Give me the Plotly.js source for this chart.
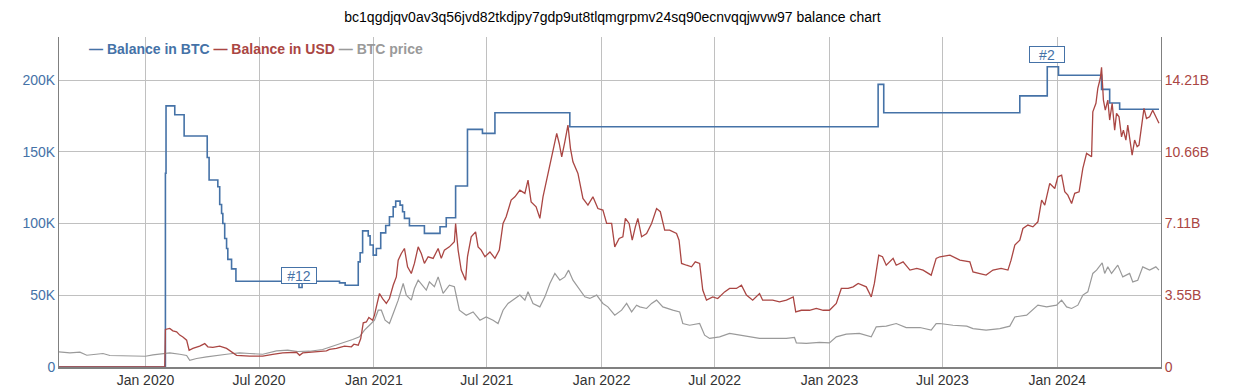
<!DOCTYPE html>
<html>
<head>
<meta charset="utf-8">
<script src="https://cdn.plot.ly/plotly-3.0.1.min.js"></script>
<style>
  html, body { margin: 0; padding: 0; background: #ffffff; }
  #chart { width: 1240px; height: 387px; }
</style>
</head>
<body>
<div id="chart"></div>
<script>
// ---------- data ----------
const chartTitle = 'bc1qgdjqv0av3q56jvd82tkdjpy7gdp9ut8tlqmgrpmv24sq90ecnvqqjwvw97 balance chart';
const seriesNames = ['Balance in BTC', 'Balance in USD', 'BTC price'];

// Balance in BTC (step series)
const btcDates = ['2019-08-15','2020-02-02','2020-02-03','2020-02-17','2020-03-03','2020-04-09','2020-04-12','2020-04-26','2020-04-29','2020-05-02','2020-05-04','2020-05-07','2020-05-10','2020-05-12','2020-05-18','2020-05-25','2020-09-03','2020-09-08','2020-11-07','2020-11-16','2020-12-07','2020-12-10','2020-12-14','2020-12-23','2020-12-26','2020-12-31','2021-01-05','2021-01-12','2021-01-20','2021-01-26','2021-02-01','2021-02-05','2021-02-12','2021-02-16','2021-02-19','2021-02-27','2021-03-23','2021-04-17','2021-04-27','2021-05-12','2021-05-31','2021-06-24','2021-07-14','2021-11-11','2023-03-20','2023-03-29','2023-11-02','2023-12-16','2024-01-03','2024-03-12','2024-03-25','2024-04-10','2024-06-12'];
const btcBalance = [0,135000,182000,175800,161000,146000,130300,125600,113300,107000,100000,89600,82600,75000,68400,59800,55400,59800,58600,57000,73300,79600,94900,91400,85000,78000,82600,93500,98600,104700,111600,115600,112800,108200,103600,98400,93100,97700,104000,126100,165600,162800,177200,167400,197000,177200,189000,209300,203300,193500,184000,179600,179600];

// Balance in USD (billions)
const usdDates = ['2019-08-15','2020-02-01','2020-02-02','2020-02-09','2020-02-14','2020-02-20','2020-02-25','2020-03-01','2020-03-07','2020-03-11','2020-03-17','2020-03-28','2020-04-05','2020-04-10','2020-04-18','2020-04-29','2020-05-10','2020-05-20','2020-05-26','2020-06-16','2020-07-07','2020-07-23','2020-08-08','2020-08-30','2020-09-04','2020-09-09','2020-10-01','2020-10-17','2020-10-22','2020-11-02','2020-11-15','2020-11-26','2020-11-30','2020-12-07','2020-12-11','2020-12-15','2020-12-20','2020-12-24','2020-12-30','2021-01-02','2021-01-05','2021-01-08','2021-01-10','2021-01-15','2021-01-21','2021-01-26','2021-02-01','2021-02-06','2021-02-09','2021-02-14','2021-02-19','2021-02-24','2021-03-02','2021-03-07','2021-03-13','2021-03-18','2021-03-23','2021-03-29','2021-04-06','2021-04-14','2021-04-19','2021-04-24','2021-05-02','2021-05-10','2021-05-12','2021-05-16','2021-05-21','2021-05-28','2021-05-31','2021-06-06','2021-06-13','2021-06-17','2021-06-22','2021-06-28','2021-07-06','2021-07-14','2021-07-21','2021-07-27','2021-08-01','2021-08-09','2021-08-15','2021-08-23','2021-08-31','2021-09-05','2021-09-10','2021-09-18','2021-09-24','2021-09-29','2021-10-07','2021-10-15','2021-10-21','2021-10-25','2021-10-29','2021-11-03','2021-11-08','2021-11-12','2021-11-16','2021-11-24','2021-12-02','2021-12-10','2021-12-18','2021-12-26','2022-01-03','2022-01-09','2022-01-17','2022-01-22','2022-01-29','2022-02-04','2022-02-08','2022-02-14','2022-02-19','2022-02-24','2022-02-28','2022-03-06','2022-03-14','2022-03-22','2022-03-30','2022-04-05','2022-04-12','2022-04-20','2022-05-01','2022-05-05','2022-05-09','2022-05-17','2022-05-25','2022-05-31','2022-06-07','2022-06-12','2022-06-18','2022-06-28','2022-07-06','2022-07-17','2022-07-25','2022-08-05','2022-08-13','2022-08-21','2022-08-31','2022-09-11','2022-09-16','2022-10-02','2022-10-13','2022-10-24','2022-11-04','2022-11-08','2022-11-17','2022-11-30','2022-12-11','2022-12-22','2023-01-01','2023-01-12','2023-01-20','2023-01-31','2023-02-08','2023-02-16','2023-03-01','2023-03-09','2023-03-14','2023-03-21','2023-03-27','2023-04-02','2023-04-13','2023-04-18','2023-04-29','2023-05-10','2023-05-21','2023-05-31','2023-06-13','2023-06-21','2023-06-27','2023-07-13','2023-07-29','2023-08-14','2023-08-19','2023-08-30','2023-09-09','2023-09-20','2023-10-03','2023-10-14','2023-10-19','2023-10-25','2023-11-02','2023-11-07','2023-11-15','2023-11-23','2023-12-01','2023-12-07','2023-12-12','2023-12-20','2023-12-28','2024-01-02','2024-01-08','2024-01-13','2024-01-18','2024-01-24','2024-01-29','2024-02-05','2024-02-11','2024-02-17','2024-02-25','2024-02-27','2024-03-03','2024-03-06','2024-03-10','2024-03-12','2024-03-15','2024-03-18','2024-03-22','2024-03-25','2024-03-29','2024-04-02','2024-04-05','2024-04-09','2024-04-13','2024-04-16','2024-04-20','2024-04-23','2024-04-26','2024-04-30','2024-05-04','2024-05-08','2024-05-11','2024-05-15','2024-05-19','2024-05-23','2024-05-28','2024-06-02','2024-06-07','2024-06-12'];
const usdBillions = [0,0,1.86,1.91,1.79,1.74,1.58,1.49,1.33,0.83,0.92,1.03,1.16,1.00,0.97,1.03,0.92,0.70,0.58,0.54,0.54,0.63,0.70,0.73,0.58,0.70,0.75,0.80,0.87,0.92,1.03,1.00,1.13,1.08,1.41,2.19,2.23,2.45,2.32,2.57,2.98,3.34,3.64,3.39,3.15,3.39,4.05,4.46,5.29,5.62,5.87,4.96,4.63,5.13,5.95,5.62,5.13,5.46,5.38,5.87,5.38,5.79,5.95,6.20,7.11,5.79,4.80,4.30,5.46,6.45,6.69,5.95,5.79,5.46,5.70,5.38,5.79,7.11,7.44,8.27,8.43,8.76,8.60,9.26,8.18,7.93,7.36,8.43,9.59,10.83,11.57,11.07,10.41,11.15,11.98,10.83,10.16,9.59,8.35,8.02,8.43,7.85,7.77,7.11,7.11,5.95,6.37,6.45,7.36,7.11,6.28,6.94,7.36,6.45,6.61,7.11,7.85,7.69,6.78,6.78,6.61,6.28,5.13,5.04,4.96,5.21,5.13,3.81,3.31,3.47,3.39,3.72,3.89,3.89,4.05,3.56,3.31,3.64,3.31,3.31,3.23,3.31,3.47,2.73,2.81,2.81,2.90,2.81,2.81,3.15,3.89,3.89,3.97,4.14,3.97,3.47,4.14,5.54,5.46,5.04,5.38,5.04,5.21,4.80,4.88,4.80,4.55,5.38,5.46,5.54,5.29,5.21,4.71,4.63,4.55,4.80,4.88,4.80,5.29,6.04,6.28,6.86,7.03,6.94,7.19,8.27,8.02,9.09,8.84,9.42,9.50,8.68,8.51,8.10,8.60,8.68,9.84,10.58,10.41,12.64,13.06,13.80,14.30,14.84,13.22,12.72,13.22,12.23,13.06,11.73,12.56,12.39,11.40,11.73,11.24,11.98,11.24,10.49,11.24,10.91,10.99,11.82,12.81,12.31,12.39,12.72,12.39,12.07];

// BTC price (USD)
const priceDates = ['2019-08-15','2019-09-02','2019-09-18','2019-09-29','2019-10-14','2019-10-25','2019-11-05','2019-11-21','2019-12-12','2020-01-01','2020-01-13','2020-01-29','2020-02-09','2020-02-25','2020-03-07','2020-03-12','2020-03-23','2020-04-08','2020-04-24','2020-05-10','2020-05-20','2020-05-31','2020-06-16','2020-07-07','2020-07-29','2020-08-16','2020-09-01','2020-09-20','2020-10-11','2020-11-02','2020-11-15','2020-11-28','2020-12-09','2020-12-17','2020-12-25','2021-01-02','2021-01-08','2021-01-13','2021-01-19','2021-01-26','2021-02-03','2021-02-09','2021-02-17','2021-02-22','2021-03-02','2021-03-07','2021-03-13','2021-03-21','2021-03-26','2021-03-31','2021-04-08','2021-04-14','2021-04-22','2021-05-02','2021-05-10','2021-05-18','2021-05-29','2021-06-09','2021-06-20','2021-06-30','2021-07-11','2021-07-19','2021-07-27','2021-08-04','2021-08-12','2021-08-23','2021-08-31','2021-09-05','2021-09-13','2021-09-24','2021-10-02','2021-10-10','2021-10-18','2021-10-26','2021-11-03','2021-11-09','2021-11-16','2021-11-24','2021-12-05','2021-12-13','2021-12-24','2022-01-03','2022-01-11','2022-01-22','2022-02-02','2022-02-10','2022-02-18','2022-02-26','2022-03-03','2022-03-14','2022-03-22','2022-03-30','2022-04-09','2022-04-25','2022-05-06','2022-05-11','2022-05-22','2022-06-07','2022-06-15','2022-06-23','2022-07-09','2022-07-25','2022-08-10','2022-08-21','2022-09-11','2022-10-02','2022-10-24','2022-11-06','2022-11-09','2022-11-25','2022-12-16','2023-01-01','2023-01-12','2023-01-28','2023-02-18','2023-03-09','2023-03-17','2023-04-02','2023-04-18','2023-05-04','2023-05-26','2023-06-13','2023-06-21','2023-06-27','2023-07-18','2023-08-09','2023-08-19','2023-09-09','2023-10-01','2023-10-17','2023-10-25','2023-11-13','2023-12-01','2023-12-15','2023-12-31','2024-01-08','2024-01-16','2024-01-24','2024-02-03','2024-02-11','2024-02-19','2024-02-27','2024-03-04','2024-03-13','2024-03-17','2024-03-22','2024-03-28','2024-04-07','2024-04-15','2024-04-26','2024-05-01','2024-05-09','2024-05-17','2024-05-28','2024-06-07','2024-06-12'];
const btcPrice = [10500,9800,10300,8200,8900,9400,8000,8000,7500,7500,8400,9400,9800,8900,8000,4700,5900,7000,8200,8900,9400,9800,9400,8900,11200,11700,10800,11000,12200,15200,17500,19200,21000,25700,29100,32600,39600,39600,32600,30300,39600,46600,58200,50100,46600,54700,60500,55900,53600,59300,55900,62800,51300,57000,55900,39600,36100,38400,32600,34900,32600,30300,39600,44300,46600,50100,46600,52400,44300,41900,48900,58200,65200,60500,62800,67500,60500,55900,48900,47800,50100,44300,41900,36100,39600,44300,38400,43100,41900,40800,44300,46600,41900,39600,38400,30300,29100,30300,22200,19900,21000,23400,22200,21000,19900,19900,19900,20600,16800,16400,17100,16800,21000,22900,23400,21000,28000,28500,30300,27500,27500,25700,30300,30300,29100,28500,26800,25700,26800,28500,34900,36100,43100,41900,43100,46600,41900,40800,43100,50100,52400,65200,67500,72600,65200,69800,65200,71000,62800,65200,59300,60500,69800,67500,69800,67500];

// flags
const flagDates = ['2020-09-03 12:00', '2023-12-16'];
const flagValues = [58200, 212100];
const flagLabels = ['#12', '#2'];

// axes ticks
const xTickVals = ['2020-01-01','2020-07-01','2021-01-01','2021-07-01','2022-01-01','2022-07-01','2023-01-01','2023-07-01','2024-01-01'];
const xTickText = ['Jan 2020','Jul 2020','Jan 2021','Jul 2021','Jan 2022','Jul 2022','Jan 2023','Jul 2023','Jan 2024'];
const btcTickVals = [0, 50000, 100000, 150000, 200000];
const btcTickText = ['0', '50K', '100K', '150K', '200K'];
const usdTickVals = [0, 3.553, 7.106, 10.659, 14.212];
const usdTickText = ['0', '3.55B', '7.11B', '10.66B', '14.21B'];

// ---------- styling ----------
const BLUE = '#4572A7', RED = '#AA4643', GRAY = '#9a9a9a';
const FONT = 'Arial, "Liberation Sans", sans-serif';
const leftMax = 230000;
const rightMax = leftMax * (usdTickVals[4] / btcTickVals[4]);

const traces = [
  { x: btcDates, y: btcBalance, name: seriesNames[0], type: 'scatter', mode: 'lines',
    line: { color: BLUE, width: 1.6, shape: 'hv' }, yaxis: 'y' },
  { x: usdDates, y: usdBillions, name: seriesNames[1], type: 'scatter', mode: 'lines',
    line: { color: RED, width: 1.3 }, yaxis: 'y2' },
  { x: priceDates, y: btcPrice, name: seriesNames[2], type: 'scatter', mode: 'lines',
    line: { color: GRAY, width: 1.2 }, yaxis: 'y' }
];

const legendText = '<b>' +
  '<span style="color:' + BLUE + '">— ' + seriesNames[0] + '</span> ' +
  '<span style="color:' + RED + '">— ' + seriesNames[1] + '</span> ' +
  '<span style="color:' + GRAY + '">— ' + seriesNames[2] + '</span></b>';

const annotations = [
  { xref: 'paper', yref: 'paper', x: 0.0254, y: 0.9627, xanchor: 'left', yanchor: 'middle',
    text: legendText, showarrow: false, font: { family: FONT, size: 14 } }
];
flagLabels.forEach(function (lab, i) {
  annotations.push({
    x: flagDates[i], y: flagValues[i], xref: 'x', yref: 'y',
    xanchor: 'center', yanchor: 'bottom', showarrow: false,
    text: lab, font: { family: FONT, size: 14, color: BLUE },
    bgcolor: '#ffffff', bordercolor: BLUE, borderwidth: 1, borderpad: 1,
    width: 32, height: 13
  });
});

const layout = {
  width: 1240, height: 387,
  margin: { l: 59, r: 79, t: 37, b: 20, pad: 0 },
  paper_bgcolor: '#ffffff', plot_bgcolor: '#ffffff',
  showlegend: false,
  font: { family: FONT, size: 14, color: '#333333' },
  title: { text: chartTitle, font: { family: FONT, size: 14, color: '#000000' },
           xref: 'container', x: 0.4939, xanchor: 'center',
           yref: 'container', y: 1 - 16.7 / 387, yanchor: 'middle' },
  xaxis: {
    type: 'date', range: ['2019-08-15 12:00', '2024-06-15 06:00'],
    tickmode: 'array', tickvals: xTickVals, ticktext: xTickText,
    showgrid: true, gridcolor: '#c0c0c0', gridwidth: 1,
    showline: true, linecolor: '#808080', linewidth: 1.5,
    ticks: '', tickfont: { family: FONT, size: 14, color: '#333333' },
    zeroline: false, fixedrange: true
  },
  yaxis: {
    range: [0, leftMax], tickmode: 'array', tickvals: btcTickVals, ticktext: btcTickText,
    showgrid: true, gridcolor: '#c0c0c0', gridwidth: 1,
    showline: true, linecolor: '#808080', linewidth: 1,
    ticks: '', tickfont: { family: FONT, size: 14, color: BLUE },
    zeroline: false, fixedrange: true
  },
  yaxis2: {
    overlaying: 'y', side: 'right',
    range: [0, rightMax], tickmode: 'array', tickvals: usdTickVals, ticktext: usdTickText,
    showgrid: false, showline: true, linecolor: '#808080', linewidth: 1,
    ticks: '', tickfont: { family: FONT, size: 14, color: RED },
    zeroline: false, fixedrange: true
  },
  annotations: annotations
};

Plotly.newPlot('chart', traces, layout, { displayModeBar: false, staticPlot: true });
</script>
</body>
</html>
